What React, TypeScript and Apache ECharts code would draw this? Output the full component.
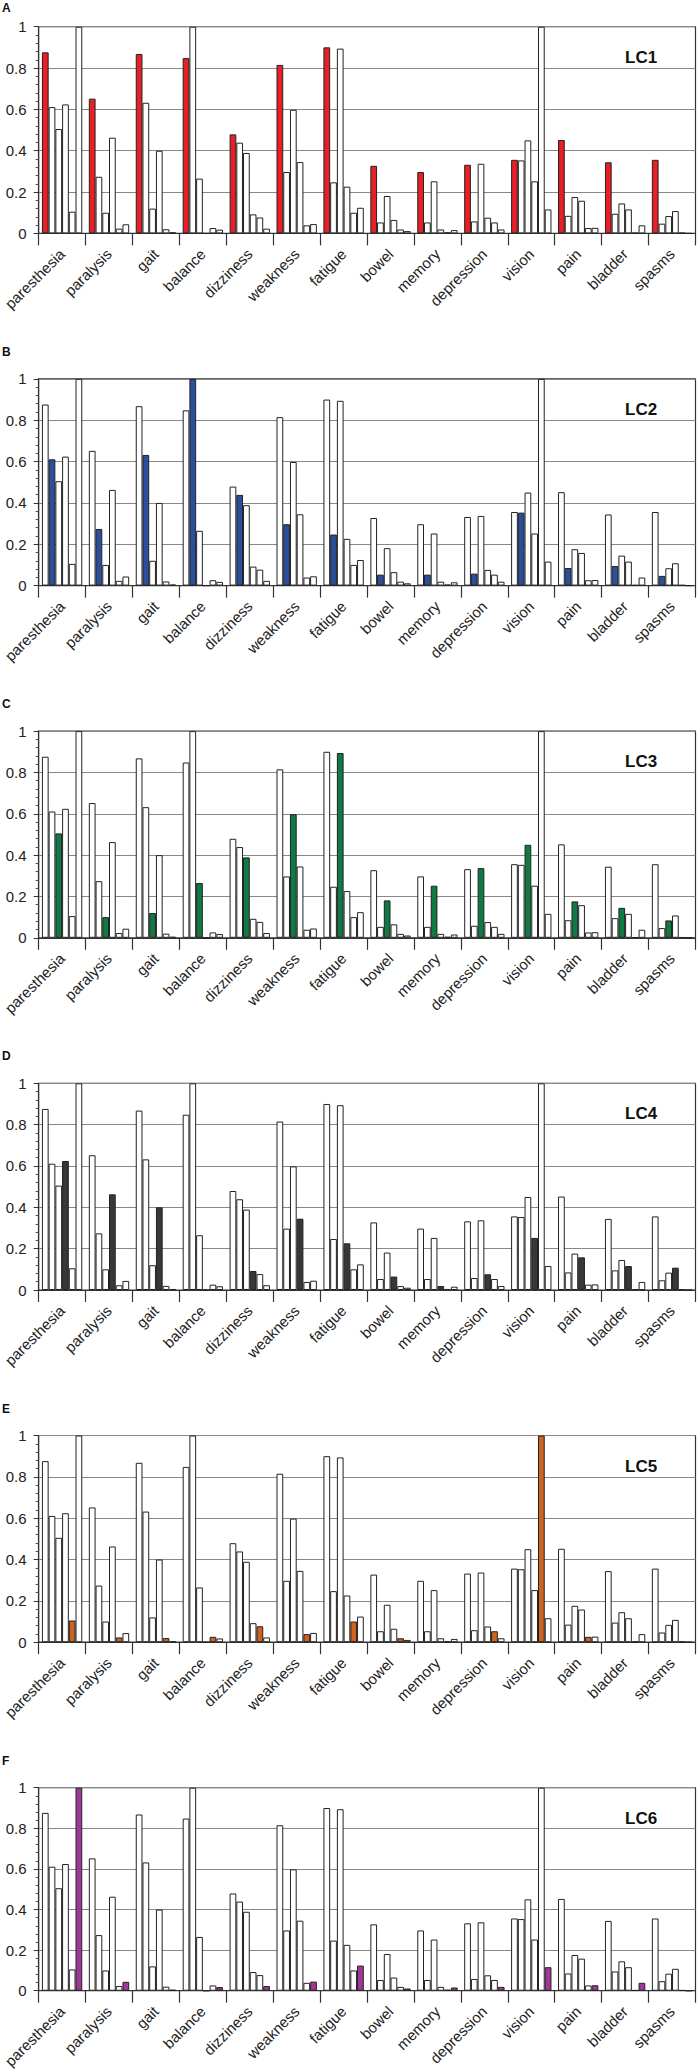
import React, { useEffect, useRef } from "react";
import * as echarts from "echarts";

const categories = [
  "paresthesia", "paralysis", "gait", "balance", "dizziness", "weakness", "fatigue",
  "bowel", "memory", "depression", "vision", "pain", "bladder", "spasms",
];

const LC1 = [0.876, 0.652, 0.868, 0.848, 0.479, 0.815, 0.9, 0.327, 0.297, 0.332, 0.356, 0.452, 0.344, 0.356];
const LC2 = [0.611, 0.274, 0.632, 1.0, 0.439, 0.297, 0.247, 0.053, 0.053, 0.058, 0.353, 0.085, 0.095, 0.047];
const LC3 = [0.505, 0.1, 0.12, 0.265, 0.389, 0.598, 0.894, 0.181, 0.252, 0.337, 0.45, 0.176, 0.145, 0.084];
const LC4 = [0.624, 0.463, 0.4, 0, 0.092, 0.345, 0.226, 0.065, 0.019, 0.076, 0.252, 0.158, 0.116, 0.108];
const LC5 = [0.105, 0.023, 0.02, 0.026, 0.077, 0.039, 0.1, 0.019, 0.005, 0.053, 1.0, 0.026, 0.003, 0.003];
const LC6 = [1.0, 0.044, 0.005, 0.018, 0.023, 0.045, 0.124, 0.011, 0.016, 0.019, 0.116, 0.027, 0.039, 0];

const seriesData = [LC1, LC2, LC3, LC4, LC5, LC6];
const seriesNames = ["LC1", "LC2", "LC3", "LC4", "LC5", "LC6"];
const panelLetters = ["A", "B", "C", "D", "E", "F"];
const highlightColors = ["#e81f26", "#2b4f9f", "#107a44", "#383838", "#d0621f", "#a0389a"];

const FONT = "'Liberation Sans', Arial, Helvetica, sans-serif";
const PLOT_TOP0 = 26.7;
const PANEL_STEP = 352.2;
const PLOT_H = 206.7;
const PLOT_LEFT = 34;
const PLOT_RIGHT = 2.5;

export default function App() {
  const ref = useRef<HTMLDivElement | null>(null);

  useEffect(() => {
    if (!ref.current) return;
    const chart = echarts.init(ref.current, null, { renderer: "svg" });

    const grids: any[] = [];
    const xAxes: any[] = [];
    const yAxes: any[] = [];
    const series: any[] = [];
    const graphics: any[] = [];

    for (let p = 0; p < 6; p++) {
      const top = PLOT_TOP0 + p * PANEL_STEP;
      grids.push({
        left: PLOT_LEFT,
        right: PLOT_RIGHT,
        top,
        height: PLOT_H,
        show: true,
        borderColor: "#333",
        borderWidth: 1.2,
        backgroundColor: "transparent",
        containLabel: false,
      });
      xAxes.push({
        type: "category",
        gridIndex: p,
        data: categories,
        boundaryGap: true,
        axisLine: { show: true, lineStyle: { color: "#333", width: 1.2 } },
        axisTick: { show: true, interval: 0, length: 12, alignWithLabel: false, lineStyle: { color: "#333", width: 1.2 } },
        axisLabel: {
          interval: 0,
          rotate: 45,
          margin: 18,
          fontSize: 15,
          color: "#222",
          fontFamily: FONT,
        },
        splitLine: { show: false },
      });
      yAxes.push({
        type: "value",
        gridIndex: p,
        min: 0,
        max: 1,
        interval: 0.2,
        axisLine: { show: true, lineStyle: { color: "#333", width: 1.2 } },
        axisTick: { show: true, length: 5, lineStyle: { color: "#333" } },
        minorTick: { show: true, splitNumber: 5, length: 3, lineStyle: { color: "#555" } },
        axisLabel: { fontSize: 15, color: "#222", fontFamily: FONT, margin: 12 },
        splitLine: { show: true, lineStyle: { color: "#888", width: 1 } },
      });
      for (let k = 0; k < 6; k++) {
        series.push({
          type: "bar",
          name: `${panelLetters[p]}-${seriesNames[k]}`,
          xAxisIndex: p,
          yAxisIndex: p,
          data: seriesData[k],
          barGap: "0%",
          barCategoryGap: "14%",
          itemStyle: {
            color: k === p ? highlightColors[p] : "#ffffff",
            borderColor: "#222",
            borderWidth: 1,
          },
          emphasis: { disabled: true },
        });
      }
      graphics.push({
        type: "text",
        left: 2,
        top: p === 0 ? 2 : top - 33,
        style: { text: panelLetters[p], font: `bold 12px ${FONT}`, fill: "#111" },
      });
      graphics.push({
        type: "text",
        left: 625,
        top: top + 22,
        style: { text: seriesNames[p], font: `bold 17px ${FONT}`, fill: "#111" },
      });
    }

    chart.setOption({
      animation: false,
      backgroundColor: "#ffffff",
      grid: grids,
      xAxis: xAxes,
      yAxis: yAxes,
      series,
      graphic: graphics,
    });

    return () => chart.dispose();
  }, []);

  return (
    <div
      ref={ref}
      style={{ position: "absolute", left: 0, top: 0, width: 698, height: 2071 }}
    />
  );
}
